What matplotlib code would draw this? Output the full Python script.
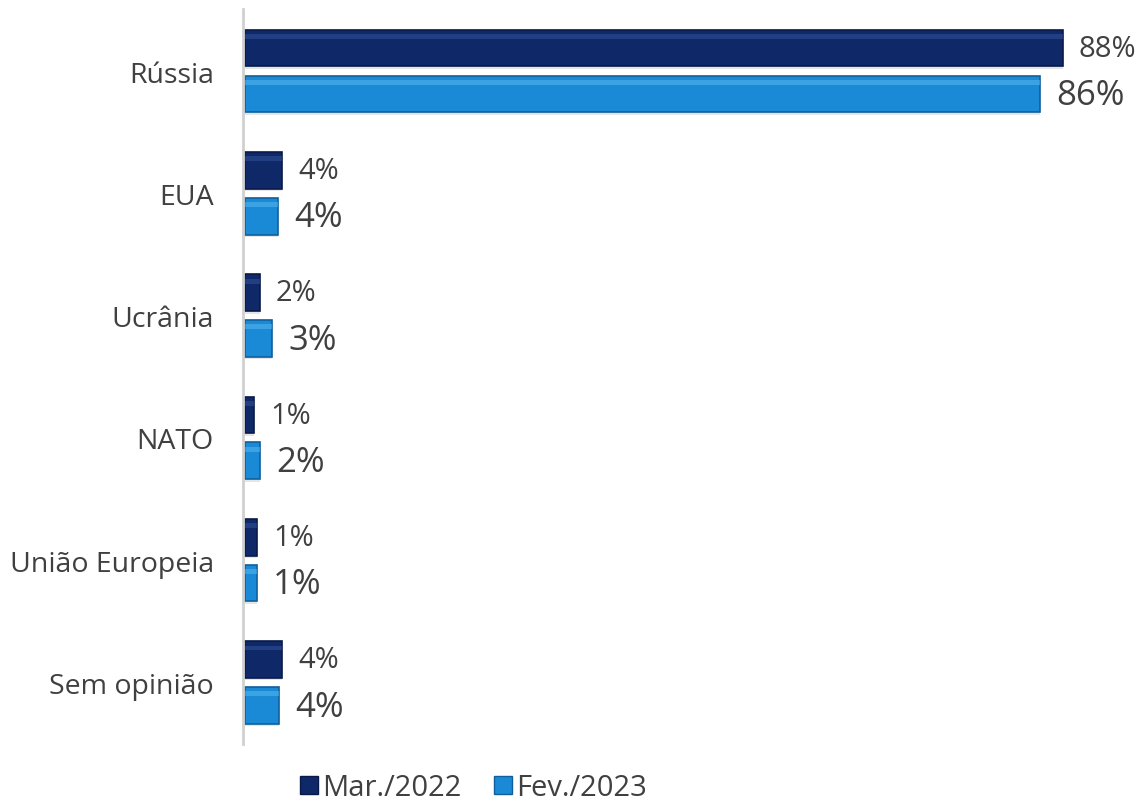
import matplotlib
matplotlib.use("Agg")
import matplotlib.pyplot as plt
from matplotlib.lines import Line2D
import numpy as np

plt.rcParams['font.family'] = ['Open Sans', 'DejaVu Sans']

# Données
categories = ["Rússia", "EUA", "Ucrânia", "NATO", "União Europeia", "Sem opinião"]
series_names = ["Mar./2022", "Fev./2023"]
mar_2022 = [87.8, 4.0, 1.6, 1.0, 1.3, 4.0]
fev_2023 = [85.4, 3.6, 2.9, 1.6, 1.3, 3.7]
mar_labels = ["88%", "4%", "2%", "1%", "1%", "4%"]
fev_labels = ["86%", "4%", "3%", "2%", "1%", "4%"]

dark = "#0f2868"
dark_edge = "#0a1a48"
light = "#1b8ad6"
light_edge = "#0f5f9c"
text_color = "#404040"

fig = plt.figure(figsize=(11.4, 8.03), dpi=100)
ax = fig.add_axes([243 / 1140, 1 - 745 / 803, 1 - 243 / 1140, 735 / 803])

y = np.arange(len(categories))
h = 0.30
off = 0.187

# Ombre légère sous les barres
ax.barh(y - off + 0.02, mar_2022, height=h, left=0.2, color="#000000", alpha=0.10, zorder=1)
ax.barh(y + off + 0.02, fev_2023, height=h, left=0.2, color="#000000", alpha=0.10, zorder=1)

ax.barh(y - off, mar_2022, height=h, left=0.2, color=dark, edgecolor=dark_edge, linewidth=1.2, zorder=2)
ax.barh(y + off, fev_2023, height=h, left=0.2, color=light, edgecolor=light_edge, linewidth=1.2, zorder=2)

# Reflet en haut des barres (effet biseauté)
ax.barh(y - off - 0.095, mar_2022, height=0.04, left=0.2, color="#3556a0", alpha=0.5, linewidth=0, zorder=3)
ax.barh(y + off - 0.095, fev_2023, height=0.04, left=0.2, color="#5cbcf2", alpha=0.5, linewidth=0, zorder=3)

for i in range(len(categories)):
    ax.text(mar_2022[i] + 0.2 + 1.75, y[i] - off, mar_labels[i], va="center", ha="left",
            fontsize=21, color=text_color)
    ax.text(fev_2023[i] + 0.2 + 1.75, y[i] + off + 0.01, fev_labels[i], va="center", ha="left",
            fontsize=25, color=text_color)

ax.set_xlim(0, 96.3)
ax.set_ylim(5.503, -0.507)
ax.set_yticks(y)
ax.set_yticklabels(categories, fontsize=20.5, color=text_color)
ax.tick_params(axis="y", length=0, pad=21)
ax.set_xticks([])

for s in ["top", "right", "bottom"]:
    ax.spines[s].set_visible(False)
ax.spines["left"].set_color("#d0d0d0")
ax.spines["left"].set_linewidth(2)

handles = [Line2D([0], [0], marker="s", linestyle="none", markersize=13,
                  markerfacecolor=dark, markeredgecolor=dark_edge),
           Line2D([0], [0], marker="s", linestyle="none", markersize=13,
                  markerfacecolor=light, markeredgecolor=light_edge)]
fig.legend(handles, series_names, loc="center", bbox_to_anchor=(472 / 1140, 1 - 789 / 803),
           ncol=2, frameon=False, fontsize=21, handletextpad=0.05, columnspacing=1.0,
           labelcolor=text_color, handlelength=0.8)

fig.savefig("out.png", dpi=100)
